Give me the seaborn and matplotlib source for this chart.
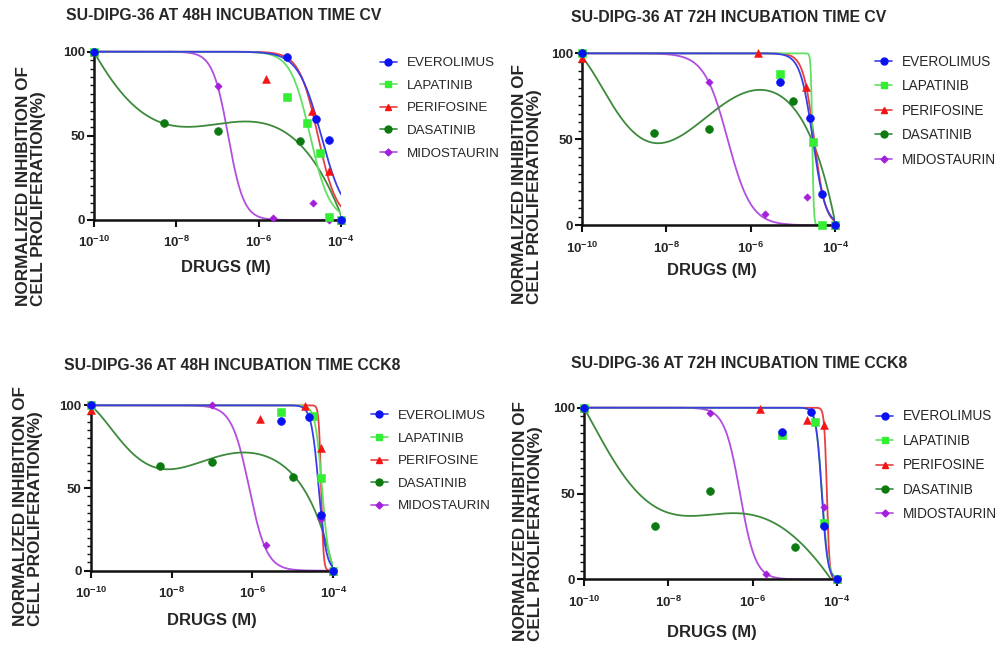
import numpy as np
import pandas as pd
import matplotlib
matplotlib.use("Agg")
import matplotlib.pyplot as plt
import seaborn as sns
from matplotlib.lines import Line2D
from matplotlib.ticker import MultipleLocator, NullLocator

sns.set_style("ticks")
plt.rcParams["font.family"] = ["Liberation Sans", "DejaVu Sans"]
plt.rcParams["mathtext.fontset"] = "custom"
plt.rcParams["mathtext.rm"] = "Liberation Sans"
plt.rcParams["mathtext.bf"] = "Liberation Sans:bold"

# ---------------- data ----------------
drugs = ["EVEROLIMUS", "LAPATINIB", "PERIFOSINE", "DASATINIB", "MIDOSTAURIN"]
titles = ["SU-DIPG-36 AT 48H INCUBATION TIME CV",
          "SU-DIPG-36 AT 72H INCUBATION TIME CV",
          "SU-DIPG-36 AT 48H INCUBATION TIME CCK8",
          "SU-DIPG-36 AT 72H INCUBATION TIME CCK8"]
x_ticks = [1e-10, 1e-8, 1e-6, 1e-4]
x_tick_labels = [r"$\mathbf{10^{-10}}$", r"$\mathbf{10^{-8}}$", r"$\mathbf{10^{-6}}$", r"$\mathbf{10^{-4}}$"]
y_ticks = [0, 50, 100]
y_label = "NORMALIZED INHIBITION OF\nCELL PROLIFERATION(%)"
x_label = "DRUGS (M)"

# measured points: log10(dose) and normalized inhibition (%)
cv48_logx = {"EVEROLIMUS": [-10, -5.30, -4.60, -4.30, -4.0],
             "LAPATINIB": [-10, -5.30, -4.82, -4.52, -4.30, -4.0],
             "PERIFOSINE": [-10, -5.82, -4.70, -4.30, -4.0],
             "DASATINIB": [-10, -8.30, -7.0, -5.0, -4.0],
             "MIDOSTAURIN": [-10, -7.0, -5.66, -4.67, -4.30, -4.0]}
cv48_y = {"EVEROLIMUS": [100, 96.6, 60, 47.5, 0],
          "LAPATINIB": [100, 73.3, 57.4, 40, 1.6, 0],
          "PERIFOSINE": [100, 84, 64.8, 29, 0],
          "DASATINIB": [100, 57.8, 53.1, 46.7, 0],
          "MIDOSTAURIN": [100, 79.4, 1, 9.9, 0, 0]}

cv72_logx = {"EVEROLIMUS": [-10, -5.30, -4.61, -4.31, -4.0],
             "LAPATINIB": [-10, -5.30, -4.54, -4.31, -4.0],
             "PERIFOSINE": [-10, -5.83, -4.70, -4.0],
             "DASATINIB": [-10, -8.30, -7.0, -5.0, -4.0],
             "MIDOSTAURIN": [-10, -7.0, -5.67, -4.68, -4.0]}
cv72_y = {"EVEROLIMUS": [100, 83.1, 62.6, 18.2, 0],
          "LAPATINIB": [100, 88.2, 48.6, 0, 0],
          "PERIFOSINE": [97, 100, 80.6, 0],
          "DASATINIB": [100, 53.9, 55.8, 72.3, 0],
          "MIDOSTAURIN": [100, 83.5, 6.6, 16.7, 0]}

cck48_logx = {"EVEROLIMUS": [-10, -5.29, -4.60, -4.30, -4.0],
              "LAPATINIB": [-10, -5.29, -4.51, -4.30, -4.0],
              "PERIFOSINE": [-10, -5.82, -4.70, -4.31, -4.0],
              "DASATINIB": [-10, -8.29, -7.0, -5.0, -4.0],
              "MIDOSTAURIN": [-10, -7.0, -5.67, -4.31, -4.0]}
cck48_y = {"EVEROLIMUS": [100, 90.3, 93.1, 33.9, 0],
           "LAPATINIB": [100, 96, 93.5, 56.3, 0],
           "PERIFOSINE": [97, 91.5, 99.4, 74.2, 0],
           "DASATINIB": [100, 63.1, 65.5, 56.9, 0],
           "MIDOSTAURIN": [100, 100, 15.5, 31, 0]}

cck72_logx = {"EVEROLIMUS": [-10, -5.30, -4.61, -4.32, -4.0],
              "LAPATINIB": [-10, -5.30, -4.53, -4.32, -4.0],
              "PERIFOSINE": [-10, -5.83, -4.70, -4.31, -4.0],
              "DASATINIB": [-10, -8.31, -7.01, -5.0, -4.0],
              "MIDOSTAURIN": [-10, -7.01, -5.68, -4.32, -4.0]}
cck72_y = {"EVEROLIMUS": [100, 86, 97.5, 30.9, 0],
           "LAPATINIB": [100, 84.1, 91.7, 32.8, 0],
           "PERIFOSINE": [100, 99, 92.6, 89.9, 0],
           "DASATINIB": [100, 30.9, 51.3, 18.6, 0],
           "MIDOSTAURIN": [100, 97.1, 3.3, 41.9, 0]}

# fitted sigmoid curves (top 100, bottom 0): log IC50 and Hill slope
cv48_logic50 = {"EVEROLIMUS": -4.48, "LAPATINIB": -4.75, "PERIFOSINE": -4.56, "MIDOSTAURIN": -6.74}
cv48_hill = {"EVEROLIMUS": 1.55, "LAPATINIB": 1.82, "PERIFOSINE": 1.9, "MIDOSTAURIN": 2.3}
cv72_logic50 = {"EVEROLIMUS": -4.533, "LAPATINIB": -4.545, "PERIFOSINE": -4.50, "MIDOSTAURIN": -6.55}
cv72_hill = {"EVEROLIMUS": 2.92, "LAPATINIB": 25, "PERIFOSINE": 3.3, "MIDOSTAURIN": 1.56}
cck48_logic50 = {"EVEROLIMUS": -4.36, "LAPATINIB": -4.28, "PERIFOSINE": -4.30, "MIDOSTAURIN": -6.08}
cck48_hill = {"EVEROLIMUS": 4.7, "LAPATINIB": 5.2, "PERIFOSINE": 15, "MIDOSTAURIN": 2.0}
cck72_logic50 = {"EVEROLIMUS": -4.36, "LAPATINIB": -4.355, "PERIFOSINE": -4.24, "MIDOSTAURIN": -6.30}
cck72_hill = {"EVEROLIMUS": 6.4, "LAPATINIB": 6.0, "PERIFOSINE": 14, "MIDOSTAURIN": 2.37}

# DASATINIB fitted curve at half-decade steps
das_curve_logx = [-10, -9.5, -9, -8.5, -8, -7.5, -7, -6.5, -6, -5.5, -5, -4.5, -4]
cv48_das_curve = [100, 80, 68.5, 59, 55, 55.5, 57.5, 59, 57.5, 53, 46.5, 28, 3]
cv72_das_curve = [98, 78, 61, 50, 47.5, 54, 64, 73.5, 78.5, 77, 68, 47, 1]
cck48_das_curve = [100, 85, 73, 63, 61.5, 63.5, 67.3, 71.5, 72.5, 66.5, 57, 40, 0]
cck72_das_curve = [100, 77, 60, 44, 39, 37.5, 37.5, 38.3, 37.5, 33, 24.5, 11.5, -5]

# ---------------- styles ----------------
marker_colors = {"EVEROLIMUS": "#0a12f2", "LAPATINIB": "#33ee33", "PERIFOSINE": "#f41414",
                 "DASATINIB": "#0c7a10", "MIDOSTAURIN": "#a41fdc"}
line_colors = {"EVEROLIMUS": "#3a3ee6", "LAPATINIB": "#62e062", "PERIFOSINE": "#e84040",
               "DASATINIB": "#3d8a3d", "MIDOSTAURIN": "#b24ee0"}
markers = {"EVEROLIMUS": "o", "LAPATINIB": "s", "PERIFOSINE": "^", "DASATINIB": "o", "MIDOSTAURIN": "D"}
msizes = {"EVEROLIMUS": 32, "LAPATINIB": 28, "PERIFOSINE": 32, "DASATINIB": 32, "MIDOSTAURIN": 14}
draw_order = ["MIDOSTAURIN", "DASATINIB", "PERIFOSINE", "LAPATINIB", "EVEROLIMUS"]

W, H = 998, 645
fig = plt.figure(figsize=(W / 100, H / 100), dpi=100)

YTOP = 101.5
panels = [
    dict(box=(94, 341, 51.7, 220), lx=cv48_logx, ly=cv48_y, ic=cv48_logic50, hl=cv48_hill, das=cv48_das_curve,
         title=(66, 16), ylab=(31, 186), xlab=(226, 268), leg=(380, 108.3), legfs=9.6),
    dict(box=(582, 835.3, 53.3, 225.3), lx=cv72_logx, ly=cv72_y, ic=cv72_logic50, hl=cv72_hill, das=cv72_das_curve,
         title=(571, 17), ylab=(527, 184), xlab=(712, 270), leg=(875, 110.7), legfs=9.8),
    dict(box=(90.7, 333.3, 405.3, 570.7), lx=cck48_logx, ly=cck48_y, ic=cck48_logic50, hl=cck48_hill, das=cck48_das_curve,
         title=(64, 365), ylab=(28, 506), xlab=(212, 621), leg=(370.7, 461), legfs=9.6),
    dict(box=(584, 837, 407.7, 579.3), lx=cck72_logx, ly=cck72_y, ic=cck72_logic50, hl=cck72_hill, das=cck72_das_curve,
         title=(571, 363.5), ylab=(528, 521), xlab=(712, 632), leg=(876, 465.3), legfs=9.8),
]

xs = np.linspace(-10, -4, 800)

for i, p in enumerate(panels):
    left, right, top100, bottom = p["box"]
    hpx = (bottom - top100) * YTOP / 100.0
    ax = fig.add_axes([left / W, 1 - bottom / H, (right - left) / W, hpx / H])
    ax.set_xscale("log")

    # curves
    for d in draw_order:
        if d == "DASATINIB":
            coef = np.polyfit(das_curve_logx, p["das"], 6)
            ys = np.polyval(coef, xs)
        else:
            ys = 100.0 / (1.0 + 10 ** ((xs - p["ic"][d]) * p["hl"][d]))
        sns.lineplot(x=10 ** xs, y=ys, ax=ax, color=line_colors[d], lw=1.3, zorder=2, legend=False)

    # points
    for d in draw_order:
        df = pd.DataFrame({"dose": 10 ** np.array(p["lx"][d], dtype=float), "val": p["ly"][d]})
        sns.scatterplot(data=df, x="dose", y="val", ax=ax, marker=markers[d], color=marker_colors[d],
                        s=msizes[d], linewidth=0.4, edgecolor=marker_colors[d], zorder=4, legend=False)
        ax.collections[-1].set_clip_on(False)

    ax.set_xlim(1e-10, 1e-4)
    ax.set_ylim(0, YTOP)
    ax.spines["left"].set_bounds(0, 100)
    for s in ["top", "right"]:
        ax.spines[s].set_visible(False)
    for s in ["left", "bottom"]:
        ax.spines[s].set_linewidth(1.8)
        ax.spines[s].set_color("#111111")
    ax.set_xticks(x_ticks)
    ax.set_xticklabels(x_tick_labels)
    ax.xaxis.set_minor_locator(NullLocator())
    ax.set_yticks(y_ticks)
    ax.yaxis.set_minor_locator(MultipleLocator(5))
    ax.tick_params(axis="both", which="major", direction="out", length=5, width=1.5, labelsize=9.5, color="#111111")
    ax.tick_params(axis="x", which="major", pad=6)
    ax.tick_params(axis="y", which="major", pad=1.5)
    ax.tick_params(axis="y", which="minor", direction="out", length=3, width=1.0, color="#111111")
    for lab in ax.get_yticklabels():
        lab.set_fontweight("bold")
    ax.set_xlabel("")
    ax.set_ylabel("")

    # texts
    tx, ty = p["title"]
    fig.text(tx / W, 1 - ty / H, titles[i], ha="left", va="center", fontsize=11.3, fontweight="bold")
    yx, yy = p["ylab"]
    fig.text(yx / W, 1 - yy / H, y_label, rotation=90, ha="center", va="center", multialignment="left",
             fontsize=12.3, fontweight="bold", linespacing=1.08)
    xx, xy = p["xlab"]
    fig.text(xx / W, 1 - xy / H, x_label, ha="center", va="center", fontsize=12, fontweight="bold")

    handles = [Line2D([0], [0], color=line_colors[d], lw=1.2, marker=markers[d],
                      markerfacecolor=marker_colors[d], markeredgecolor=marker_colors[d],
                      markersize=5 if d != "MIDOSTAURIN" else 3.5) for d in drugs]
    lx_, ly_ = p["leg"]
    ax.legend(handles, drugs, loc="center left", bbox_to_anchor=(lx_ / W, 1 - ly_ / H),
              bbox_transform=fig.transFigure, frameon=False, borderpad=0, borderaxespad=0,
              handlelength=1.26, handletextpad=0.75, labelspacing=0.77, fontsize=p["legfs"])

fig.savefig("out.png", dpi=100)
